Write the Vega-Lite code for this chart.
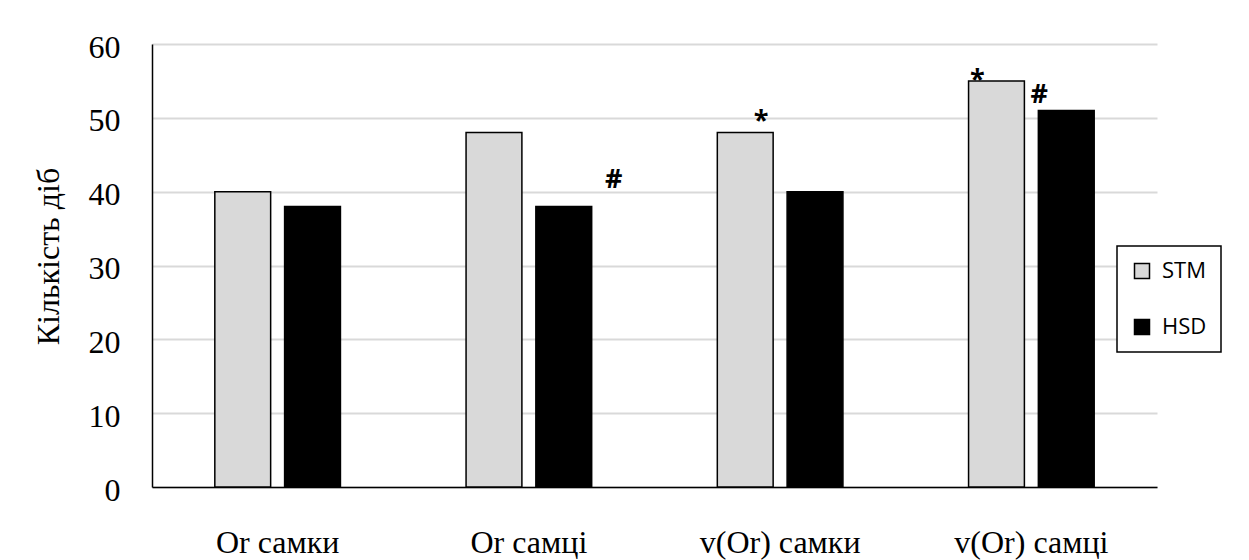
{
  "$schema": "https://vega.github.io/schema/vega-lite/v6.json",
  "width": 1005,
  "height": 443,
  "autosize": "none",
  "padding": {"left": 152, "top": 44, "right": 92, "bottom": 73},
  "background": "white",
  "config": {"view": {"stroke": null}, "font": "Liberation Serif"},
  "datasets": {
    "bars": [
      {"category": "Or самки", "group": "STM", "value": 40},
      {"category": "Or самки", "group": "HSD", "value": 38},
      {"category": "Or самці", "group": "STM", "value": 48},
      {"category": "Or самці", "group": "HSD", "value": 38},
      {"category": "v(Or) самки", "group": "STM", "value": 48},
      {"category": "v(Or) самки", "group": "HSD", "value": 40},
      {"category": "v(Or) самці", "group": "STM", "value": 55},
      {"category": "v(Or) самці", "group": "HSD", "value": 51}
    ],
    "notes": [
      {"id": 1, "category": "Or самці", "group": "HSD", "value": 40.5, "label": "#"},
      {"id": 2, "category": "v(Or) самки", "group": "STM", "value": 48.5, "label": "*"},
      {"id": 3, "category": "v(Or) самці", "group": "STM", "value": 54.0, "label": "*"},
      {"id": 4, "category": "v(Or) самці", "group": "HSD", "value": 52.0, "label": "#"}
    ]
  },
  "encoding": {
    "x": {
      "field": "category",
      "type": "nominal",
      "sort": ["Or самки", "Or самці", "v(Or) самки", "v(Or) самці"],
      "scale": {"paddingInner": 0.5, "paddingOuter": 0.25},
      "axis": {
        "title": null,
        "labelAngle": 0,
        "labelFont": "Liberation Serif",
        "labelFontSize": 32,
        "labelColor": "black",
        "labelBaseline": "alphabetic",
        "labelPadding": 65,
        "ticks": false,
        "tickSize": 0,
        "domainColor": "black",
        "domainWidth": 1.5
      }
    },
    "xOffset": {
      "field": "group",
      "type": "nominal",
      "sort": ["STM", "HSD"],
      "scale": {"paddingInner": 0.2}
    },
    "y": {
      "field": "value",
      "type": "quantitative",
      "scale": {"domain": [0, 60]},
      "axis": {
        "values": [0, 10, 20, 30, 40, 50, 60],
        "title": "Кількість діб",
        "titleFont": "Liberation Serif",
        "titleFontSize": 32,
        "titleFontWeight": "normal",
        "titleColor": "black",
        "titleAngle": 270,
        "titleAlign": "center",
        "titleBaseline": "alphabetic",
        "titleX": -94,
        "titleY": 212,
        "labelFont": "Liberation Serif",
        "labelFontSize": 32,
        "labelColor": "black",
        "labelPadding": 32,
        "labelBaseline": "middle",
        "labelOffset": 3,
        "ticks": false,
        "tickSize": 0,
        "grid": true,
        "gridColor": "#d9d9d9",
        "gridWidth": 2,
        "domainColor": "black",
        "domainWidth": 1.5
      }
    }
  },
  "layer": [
    {
      "data": {"name": "bars"},
      "mark": {"type": "bar", "stroke": "black", "strokeWidth": 1.5},
      "encoding": {
        "color": {
          "field": "group",
          "type": "nominal",
          "sort": ["STM", "HSD"],
          "scale": {"domain": ["STM", "HSD"], "range": ["#d9d9d9", "#000000"]},
          "legend": {
            "title": null,
            "orient": "none",
            "legendX": 965,
            "legendY": 202,
            "symbolType": "square",
            "symbolSize": 225,
            "symbolStrokeColor": "black",
            "symbolStrokeWidth": 1.5,
            "labelFont": "Open Sans",
            "labelFontSize": 22,
            "labelColor": "black",
            "labelOffset": 9,
            "rowPadding": 34,
            "padding": 14,
            "strokeColor": "black",
            "fillColor": "white",
            "encode": {"legend": {"update": {"strokeWidth": {"value": 1.5}}}}
          }
        }
      }
    },
    {
      "data": {"name": "notes"},
      "transform": [{"filter": "datum.id == 1"}],
      "mark": {"type": "text", "font": "Open Sans", "fontWeight": "bold", "fontSize": 27, "dx": 50, "baseline": "alphabetic", "color": "black"},
      "encoding": {"text": {"field": "label"}}
    },
    {
      "data": {"name": "notes"},
      "transform": [{"filter": "datum.id == 2"}],
      "mark": {"type": "text", "font": "Open Sans", "fontWeight": "bold", "fontSize": 27, "dx": 16, "baseline": "alphabetic", "color": "black"},
      "encoding": {"text": {"field": "label"}}
    },
    {
      "data": {"name": "notes"},
      "transform": [{"filter": "datum.id == 3"}],
      "mark": {"type": "text", "font": "Open Sans", "fontWeight": "bold", "fontSize": 27, "dx": -19, "baseline": "alphabetic", "color": "black"},
      "encoding": {"text": {"field": "label"}}
    },
    {
      "data": {"name": "notes"},
      "transform": [{"filter": "datum.id == 4"}],
      "mark": {"type": "text", "font": "Open Sans", "fontWeight": "bold", "fontSize": 27, "dx": -27, "baseline": "alphabetic", "color": "black"},
      "encoding": {"text": {"field": "label"}}
    }
  ]
}
